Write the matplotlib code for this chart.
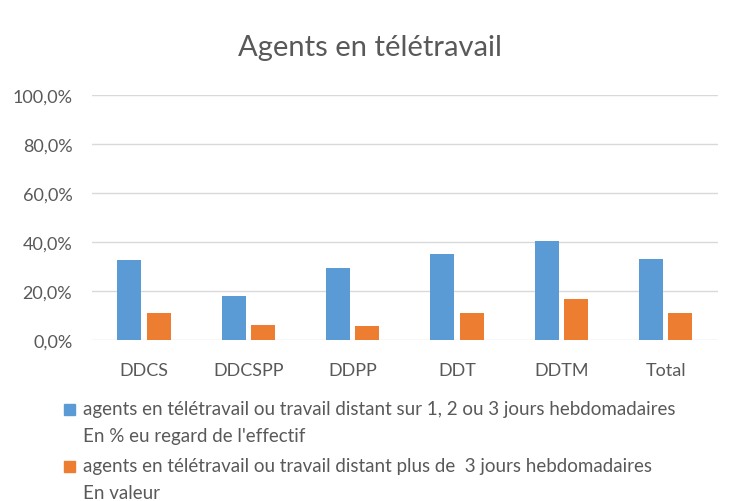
import matplotlib
matplotlib.use("Agg")
import numpy as np
import matplotlib.pyplot as plt
from matplotlib.patches import Rectangle
from matplotlib.ticker import FuncFormatter

plt.rcParams['font.family'] = ['Lato', 'DejaVu Sans']

# données
categories = ["DDCS", "DDCSPP", "DDPP", "DDT", "DDTM", "Total"]
pct_1_3_jours = [32.8, 18.1, 29.4, 35.1, 40.5, 32.9]
pct_plus_3_jours = [11.1, 6.2, 5.6, 11.1, 16.7, 11.1]
labels = ["agents en télétravail ou travail distant sur 1, 2 ou 3 jours hebdomadaires\nEn % eu regard de l'effectif",
          "agents en télétravail ou travail distant plus de  3 jours hebdomadaires\nEn valeur"]

blue = "#5B9BD5"
orange = "#ED7D31"
txt = "#595959"

fig = plt.figure(figsize=(7.4, 5.02), dpi=100)
ax = fig.add_axes([0.124, 0.3207, 0.846, 0.488])

x = np.arange(len(categories))
w = 0.23
ax.bar(x - w/2 - 0.025, pct_1_3_jours, w, color=blue)
ax.bar(x + w/2 + 0.025, pct_plus_3_jours, w, color=orange)

ax.set_xlim(-0.5, len(categories) - 0.5)
ax.set_ylim(0, 100)
ax.set_yticks(np.arange(0, 101, 20))
ax.yaxis.set_major_formatter(FuncFormatter(lambda v, p: f"{v:.1f}%".replace(".", ",")))
ax.set_xticks(x)
ax.set_xticklabels(categories)
ax.grid(axis="y", color="#D9D9D9", lw=1)
ax.set_axisbelow(True)
for s in ax.spines.values():
    s.set_visible(False)
ax.tick_params(length=0, labelsize=13, colors=txt)
ax.tick_params(axis="x", pad=16)
ax.tick_params(axis="y", pad=14)

fig.text(0.5, 0.905, "Agents en télétravail", ha="center", va="center",
         fontsize=21, color=txt)

# légende dessinée à la main (pavé aligné sur la première ligne)
for i, (lab, col) in enumerate(zip(labels, [blue, orange])):
    ytop = 1 - (404 + i * 57) / 502
    fig.patches.append(Rectangle((64/740, ytop - 12/502), 11/740, 11/502,
                                 transform=fig.transFigure, color=col))
    fig.text(83/740, ytop + 3/502, lab, ha="left", va="top", fontsize=13.5,
             color=txt, linespacing=1.75)

fig.savefig("out.png", dpi=100)
